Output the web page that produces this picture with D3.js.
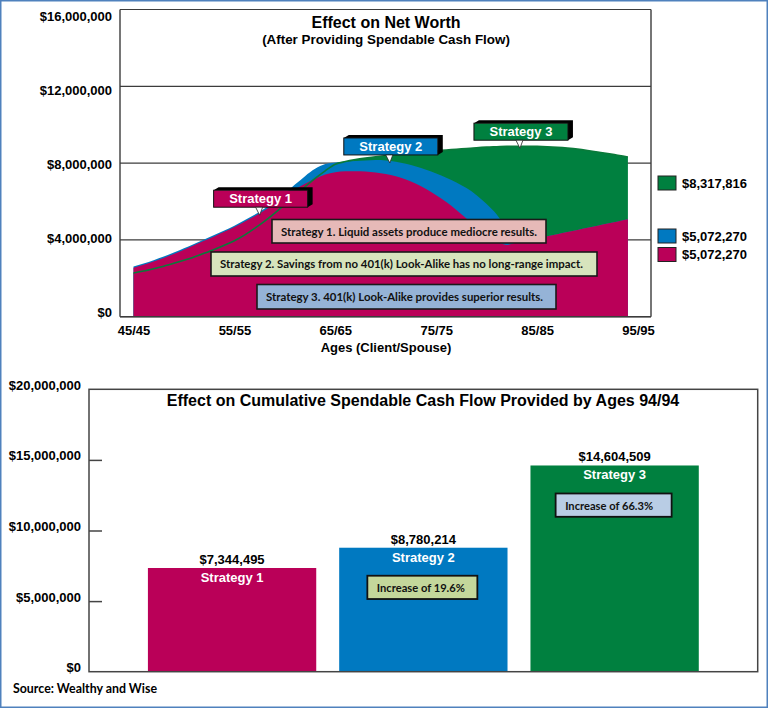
<!DOCTYPE html>
<html><head><meta charset="utf-8">
<script src="https://cdn.jsdelivr.net/npm/d3@7"></script>
<style>
body{margin:0;background:#fff;}
svg{display:block;}
</style></head>
<body>
<svg id="chart" width="769" height="709"></svg>
<script>
// ---------- DATA ----------
const ages = [45,46,47,48,49,50,51,52,53,54,55,56,57,58,59,60,61,62,63,64,65,66,67,68,69,70,71,72,73,74,75,76,77,78,79,80,81,82,83,84,85,86,87,88,89,90,91,92,93,94];
// Net worth, $ millions
const strategy1 = [2.55,2.70,2.87,3.06,3.27,3.49,3.72,3.95,4.18,4.42,4.67,4.94,5.23,5.55,5.90,6.27,6.62,6.92,7.18,7.40,7.52,7.57,7.58,7.56,7.51,7.43,7.31,7.14,6.92,6.65,6.33,5.97,5.56,5.12,4.66,4.22,3.90,3.74,3.86,3.97,4.08,4.19,4.30,4.41,4.52,4.63,4.74,4.85,4.96,5.07];
const strategy2 = [2.61,2.77,2.94,3.13,3.34,3.56,3.79,4.02,4.25,4.49,4.74,5.02,5.31,5.64,6.00,6.42,6.88,7.32,7.70,7.95,8.03,8.07,8.11,8.14,8.16,8.14,8.07,7.96,7.82,7.65,7.46,7.24,6.99,6.70,6.33,5.87,5.32,4.55,3.86,3.97,4.08,4.19,4.30,4.41,4.52,4.63,4.74,4.85,4.96,5.07];
const strategy3 = [2.28,2.38,2.50,2.63,2.78,2.94,3.11,3.30,3.50,3.72,3.96,4.25,4.60,4.98,5.40,5.84,6.30,6.76,7.20,7.60,7.94,8.08,8.18,8.26,8.33,8.39,8.45,8.50,8.55,8.60,8.64,8.68,8.72,8.76,8.80,8.83,8.85,8.87,8.88,8.88,8.87,8.85,8.82,8.78,8.73,8.66,8.58,8.50,8.41,8.32];
const topYTicks = [0,4,8,12,16];
const topXTicks = [45,55,65,75,85,95];
const legendLabels = ["$8,317,816","$5,072,270","$5,072,270"];
const legendSeries = ["s3","s2","s1"];
const calloutLabels = ["Strategy 1","Strategy 2","Strategy 3"];
const calloutAges = [57.5,70.4,83.3];
const noteTexts = ["Strategy 1. Liquid assets produce mediocre results.",
  "Strategy 2. Savings from no 401(k) Look-Alike has no long-range impact.",
  "Strategy 3. 401(k) Look-Alike provides superior results."];

const barCategories = ["Strategy 1","Strategy 2","Strategy 3"];
const barValues = [7344495, 8780214, 14604509];
const barYTicks = [0,5000000,10000000,15000000,20000000];
const increaseLabels = ["", "Increase of 19.6%", "Increase of 66.3%"];

// ---------- STYLE ----------
const colors = {s1:"#BA0058", s2:"#0079C1", s3:"#00803F"};
const seriesColors = [colors.s1, colors.s2, colors.s3];
const arial = "'Liberation Sans', Arial, sans-serif";
const calibri = "Lato, 'Open Sans', sans-serif";
const axisColor = "#3c3c3c";

const svg = d3.select("#chart");
svg.append("rect").attr("width",769).attr("height",709).attr("fill","#fff");
svg.append("rect").attr("x",0.75).attr("y",0.75).attr("width",766.5).attr("height",706.5)
  .attr("fill","none").attr("stroke","#4F81BD").attr("stroke-width",1.5);

// ================= TOP CHART =================
const T = {left:120, right:651, top:9.5, bottom:316.7};
const xT = d3.scaleLinear().domain([45,95]).range([133.5,638]);
const yT = d3.scaleLinear().domain([0,16]).range([T.bottom, T.top]);
const yTLab = d3.scaleLinear().domain([0,16]).range([316.5,20]);
const gT = svg.append("g");

// gridlines (behind areas)
gT.append("g").selectAll("line").data(topYTicks).join("line")
  .attr("x1",T.left).attr("x2",T.right)
  .attr("y1",d=>yT(d)).attr("y2",d=>yT(d))
  .attr("stroke",axisColor).attr("stroke-width",1.2);

const area = d3.area()
  .x((d,i)=>xT(ages[i])).y0(yT(0)).y1(d=>yT(d))
  .curve(d3.curveMonotoneX);
const line = d3.line()
  .x((d,i)=>xT(ages[i])).y(d=>yT(d))
  .curve(d3.curveMonotoneX);

gT.append("path").datum(strategy3).attr("d",area).attr("fill",colors.s3);
gT.append("path").datum(strategy2).attr("d",area).attr("fill",colors.s2);
gT.append("path").datum(strategy1).attr("d",area).attr("fill",colors.s1);
gT.append("path").datum(strategy3).attr("d",line).attr("fill","none")
  .attr("stroke","#0A7A3A").attr("stroke-width",1.6);

// frame lines
gT.append("line").attr("x1",T.left).attr("x2",T.left).attr("y1",T.top).attr("y2",T.bottom)
  .attr("stroke",axisColor).attr("stroke-width",1.4);
gT.append("line").attr("x1",T.right).attr("x2",T.right).attr("y1",T.top).attr("y2",T.bottom)
  .attr("stroke",axisColor).attr("stroke-width",1.4);
gT.append("line").attr("x1",T.left).attr("x2",T.right).attr("y1",T.bottom).attr("y2",T.bottom)
  .attr("stroke",axisColor).attr("stroke-width",1.4);

// y axis labels
const yAxT = gT.append("g").attr("transform",`translate(${T.left},0)`)
  .call(d3.axisLeft(yTLab).tickValues(topYTicks).tickSize(0).tickPadding(8)
    .tickFormat(d=>d3.format("$,")(d*1e6)));
yAxT.select(".domain").remove();
yAxT.selectAll("text").attr("dy",0).attr("font-family",arial).attr("font-weight","bold")
  .attr("font-size",13).attr("fill","#000");

// x axis labels
const xAxT = gT.append("g").attr("transform",`translate(0,${T.bottom})`)
  .call(d3.axisBottom(xT).tickValues(topXTicks).tickSize(0).tickFormat(d=>`${d}/${d}`));
xAxT.select(".domain").remove();
xAxT.selectAll("text").attr("y",18.3).attr("dy",0).attr("font-family",arial)
  .attr("font-weight","bold").attr("font-size",13).attr("fill","#000");

gT.append("text").attr("x",386).attr("y",352).attr("text-anchor","middle")
  .attr("font-family",arial).attr("font-weight","bold").attr("font-size",13)
  .text("Ages (Client/Spouse)");

// titles
gT.append("text").attr("x",386).attr("y",27.5).attr("text-anchor","middle")
  .attr("font-family",arial).attr("font-weight","bold").attr("font-size",16)
  .text("Effect on Net Worth");
gT.append("text").attr("x",386).attr("y",43.5).attr("text-anchor","middle")
  .attr("font-family",arial).attr("font-weight","bold").attr("font-size",13.4)
  .text("(After Providing Spendable Cash Flow)");

// note boxes
const noteBoxes = [
  {x:272, y:219.5, w:274, h:23.5, fill:"#E6B9B8", tl:256},
  {x:211, y:252, w:386, h:24, fill:"#D7E4BD", tl:363},
  {x:257, y:284.5, w:299, h:24.5, fill:"#95B3D7", tl:277}
];
noteBoxes.forEach((b,i)=>{
  gT.append("rect").attr("x",b.x).attr("y",b.y).attr("width",b.w).attr("height",b.h)
    .attr("fill",b.fill).attr("stroke","#1a1a1a").attr("stroke-width",1.6);
  gT.append("text").attr("x",b.x+9).attr("y",b.y+b.h/2+4.3)
    .attr("font-family",calibri).attr("font-weight","bold").attr("font-size",12)
    .attr("textLength",b.tl).attr("lengthAdjust","spacingAndGlyphs")
    .attr("fill","#111").text(noteTexts[i]);
});

// callouts
const seriesArr = [strategy1, strategy2, strategy3];
calloutLabels.forEach((lab,i)=>{
  const age = calloutAges[i];
  const vals = seriesArr[i];
  const k = Math.floor(age) - ages[0];
  const v = vals[k] + (vals[k+1]-vals[k])*(age-Math.floor(age));
  const tx = xT(age), ty = yT(v) + 2;
  const L = tx-46, R = L+94, B = ty-8, Tp = B-17, dx=5, dy=-3;
  // 3D extrusion
  gT.append("path").attr("d",`M${L},${Tp}L${L+dx},${Tp+dy}L${R+dx},${Tp+dy}L${R+dx},${B+dy}L${R},${B}L${R},${Tp}Z`)
    .attr("fill","#000");
  gT.append("rect").attr("x",L).attr("y",Tp).attr("width",R-L).attr("height",B-Tp)
    .attr("fill",seriesColors[i]).attr("stroke","#111").attr("stroke-width",1);
  gT.append("path").attr("d",`M${tx-4},${B}L${tx+3},${B}L${tx},${ty}Z`)
    .attr("fill","#fff").attr("stroke","#222").attr("stroke-width",0.8);
  gT.append("text").attr("x",(L+R)/2).attr("y",Tp+13.2).attr("text-anchor","middle")
    .attr("font-family",arial).attr("font-weight","bold").attr("font-size",13)
    .attr("fill","#fff").text(lab);
});

// legend
const legendY = [176, 229, 247.5];
legendSeries.forEach((s,i)=>{
  gT.append("rect").attr("x",658).attr("y",legendY[i]).attr("width",18).attr("height",14)
    .attr("fill",colors[s]).attr("stroke","#222").attr("stroke-width",1);
  gT.append("text").attr("x",682).attr("y",legendY[i]+11.5)
    .attr("font-family",arial).attr("font-weight","bold").attr("font-size",13)
    .text(legendLabels[i]);
});

// ================= BOTTOM CHART =================
const B = {left:89, right:757.7, top:389.3, bottom:671.7};
const yB = d3.scaleLinear().domain([0,20000000]).range([B.bottom,B.top]);
const xB = d3.scaleBand().domain(barCategories).range([B.left,B.right])
  .paddingInner(0.12).paddingOuter(0.308);
const gB = svg.append("g");

gB.selectAll("rect.bar").data(barValues).join("rect").attr("class","bar")
  .attr("x",(d,i)=>xB(barCategories[i])).attr("width",xB.bandwidth())
  .attr("y",d=>yB(d)).attr("height",d=>yB(0)-yB(d))
  .attr("fill",(d,i)=>seriesColors[i]);

gB.append("rect").attr("x",B.left).attr("y",B.top).attr("width",B.right-B.left)
  .attr("height",B.bottom-B.top).attr("fill","none").attr("stroke","#444").attr("stroke-width",1.5);

const yAxB = gB.append("g").attr("transform",`translate(${B.left},0)`)
  .call(d3.axisLeft(yB).tickValues(barYTicks).tickSizeInner(-13).tickSizeOuter(0).tickPadding(8)
    .tickFormat(d3.format("$,")));
yAxB.select(".domain").remove();
yAxB.selectAll("line").attr("stroke","#444").attr("stroke-width",1.5)
  .filter(d=>d===0||d===20000000).remove();
yAxB.selectAll("text").attr("dy",0).attr("font-family",arial).attr("font-weight","bold")
  .attr("font-size",13).attr("fill","#000");

// value labels and names
barValues.forEach((v,i)=>{
  const cx = xB(barCategories[i]) + xB.bandwidth()/2;
  gB.append("text").attr("x",cx).attr("y",yB(v)-4).attr("text-anchor","middle")
    .attr("font-family",arial).attr("font-weight","bold").attr("font-size",13)
    .text(d3.format("$,")(v));
  gB.append("text").attr("x",cx).attr("y",yB(v)+14).attr("text-anchor","middle")
    .attr("font-family",arial).attr("font-weight","bold").attr("font-size",13)
    .attr("fill","#fff").text(barCategories[i]);
  if (increaseLabels[i]) {
    const w = i===1 ? 110 : 116;
    const fill = i===1 ? "#C4D79B" : "#B9CDE5";
    const top = yB(v) + 28;
    gB.append("rect").attr("x",cx-w/2-1).attr("y",top).attr("width",w).attr("height",23.3)
      .attr("fill",fill).attr("stroke","#111").attr("stroke-width",1.8);
    gB.append("text").attr("x",cx-w/2+8.5).attr("y",top+16.5)
      .attr("font-family",calibri).attr("font-weight","bold").attr("font-size",12)
      .attr("textLength",88).attr("lengthAdjust","spacingAndGlyphs")
      .attr("fill","#111").text(increaseLabels[i]);
  }
});

gB.append("text").attr("x",423).attr("y",406).attr("text-anchor","middle")
  .attr("font-family",arial).attr("font-weight","bold").attr("font-size",16)
  .text("Effect on Cumulative Spendable Cash Flow Provided by Ages 94/94");

svg.append("text").attr("x",13).attr("y",693)
  .attr("font-family",calibri).attr("font-weight","bold").attr("font-size",13)
  .attr("textLength",144).attr("lengthAdjust","spacingAndGlyphs")
  .text("Source: Wealthy and Wise");
</script>
</body></html>
